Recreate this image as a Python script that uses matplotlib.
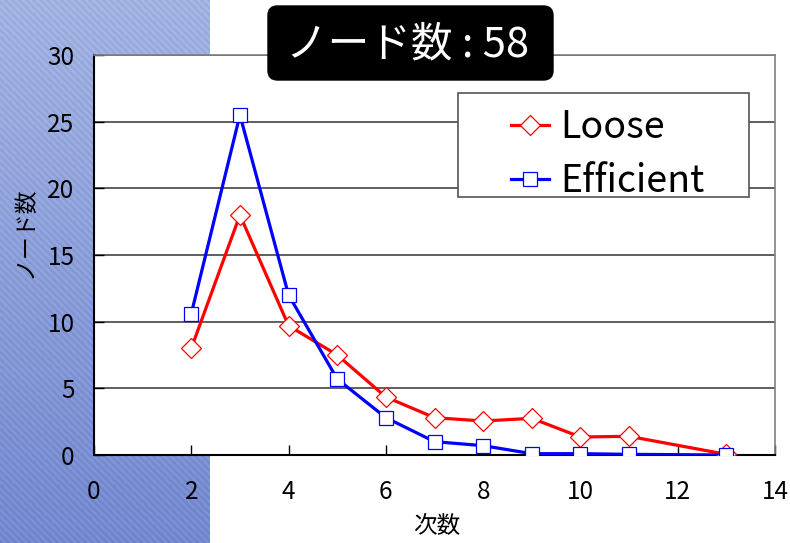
import numpy as np
import matplotlib.pyplot as plt
from matplotlib.patches import Rectangle, FancyBboxPatch

plt.rcParams['font.family'] = ['Noto Sans CJK JP', 'DejaVu Sans']

degree = [2, 3, 4, 5, 6, 7, 8, 9, 10, 11, 13]
loose = [8.0, 18.0, 9.7, 7.5, 4.35, 2.8, 2.55, 2.75, 1.35, 1.4, 0.05]
efficient = [10.6, 25.5, 12.0, 5.7, 2.8, 1.0, 0.7, 0.1, 0.1, 0.05, 0.0]

x_ticks = [0, 2, 4, 6, 8, 10, 12, 14]
y_ticks = [0, 5, 10, 15, 20, 25, 30]

W, H = 790, 543
fig = plt.figure(figsize=(W / 100, H / 100), dpi=100)
fig.patch.set_facecolor('white')

# striped blue panel on the left
bg = fig.add_axes([0, 0, 210 / W, 1], zorder=-5)
h, w = H, 210
yy, xx = np.mgrid[0:h, 0:w]
shade = 1 - yy / h
stripe = 0.03 * np.sin((xx - yy) * 2 * np.pi / 7.0)
top = np.array([162, 179, 226]) / 255
bot = np.array([116, 137, 207]) / 255
img = bot[None, None, :] + (top - bot)[None, None, :] * shade[..., None]
img = np.clip(img + stripe[..., None], 0, 1)
bg.imshow(img, aspect='auto', extent=[0, 1, 0, 1])
bg.axis('off')

ax = fig.add_axes([94 / W, 1 - 455 / H, (775 - 94) / W, (455 - 55) / H])
ax.set_facecolor('white')

ax.plot(degree, loose, color='#ff0000', lw=2.3, marker='D', markersize=10,
        markerfacecolor='white', markeredgecolor='#ff0000', markeredgewidth=0.9,
        label='Loose', zorder=3)
ax.plot(degree, efficient, color='#0000ff', lw=2.3, marker='s', markersize=10.5,
        markerfacecolor='white', markeredgecolor='#0000ff', markeredgewidth=0.9,
        label='Efficient', zorder=3)

ax.set_xlim(0, 14)
ax.set_ylim(0, 30)
ax.set_xticks(x_ticks)
ax.set_yticks(y_ticks)
ax.tick_params(axis='both', direction='in', length=7, width=1, labelsize=17.5)
ax.tick_params(axis='x', pad=17)
ax.tick_params(axis='y', pad=14)
ax.yaxis.grid(True, color='#333333', lw=1.1)
ax.set_axisbelow(True)

for s in ['left', 'bottom']:
    ax.spines[s].set_color('black')
    ax.spines[s].set_linewidth(1.5)
for s in ['top', 'right']:
    ax.spines[s].set_color('#808080')
    ax.spines[s].set_linewidth(1.2)

fig.text(437 / W, 1 - 527 / H, '次数', fontsize=17, ha='center', va='center')
fig.text(25 / W, 1 - 232 / H, 'ノード数', fontsize=16.5, ha='center', va='center',
         rotation=90)

# legend: box drawn separately so the handles can sit further in
ax.add_patch(Rectangle((458 / W, 1 - 197 / H), (749 - 458) / W, (197 - 93) / H,
                       transform=fig.transFigure, facecolor='white',
                       edgecolor='#555555', lw=1.2, zorder=4, clip_on=False))
leg = ax.legend(loc='upper left', bbox_to_anchor=(511 / W, 1 - 108 / H),
                bbox_transform=fig.transFigure, borderaxespad=0, fontsize=27,
                handlelength=1.0, handletextpad=0.3, borderpad=0.0,
                labelspacing=0.4, frameon=False)
leg.set_zorder(5)

# title box
fig.patches.append(FancyBboxPatch((268 / W, 1 - 80 / H), (553 - 268) / W, (80 - 6) / H,
                                  boxstyle='round,pad=0,rounding_size=0.012',
                                  transform=fig.transFigure, facecolor='black',
                                  edgecolor='black', zorder=4, mutation_aspect=W / H))
fig.text(408 / W, 1 - 45 / H, 'ノード数 : 58', fontsize=30, color='white',
         ha='center', va='center', zorder=6)

fig.savefig('out.png', dpi=100)
